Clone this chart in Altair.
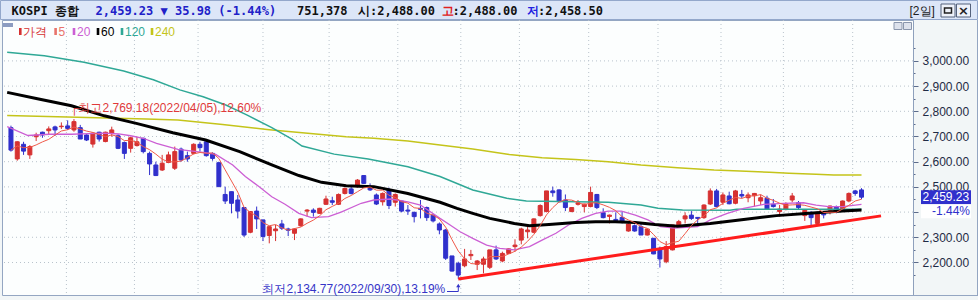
import altair as alt
import pandas as pd

# ---------------- data (2-day candles, KOSPI) ----------------
opens = [2735, 2611, 2669, 2627, 2699, 2717, 2723, 2738, 2739, 2742,
         2726, 2735, 2706, 2670, 2717, 2680, 2713, 2703, 2676, 2653,
         2664, 2693, 2633, 2587, 2567, 2597, 2574, 2650, 2624, 2633,
         2669, 2679, 2633, 2596, 2470, 2481, 2448, 2418, 2320, 2404,
         2369, 2307, 2326, 2353, 2333, 2316, 2346, 2404, 2408, 2395,
         2431, 2445, 2431, 2474, 2492, 2501, 2545, 2501, 2468, 2441,
         2488, 2439, 2444, 2408, 2399, 2415, 2418, 2388, 2353, 2329,
         2226, 2197, 2187, 2227, 2193, 2193, 2181, 2250, 2206, 2236,
         2263, 2289, 2322, 2320, 2386, 2402, 2484, 2488, 2448, 2402,
         2431, 2422, 2422, 2470, 2398, 2383, 2371, 2379, 2325, 2346,
         2342, 2309, 2296, 2256, 2203, 2250, 2346, 2373, 2388, 2379,
         2378, 2432, 2484, 2439, 2464, 2435, 2470, 2457, 2465, 2444,
         2455, 2431, 2402, 2410, 2448, 2437, 2386, 2395, 2355, 2395,
         2408, 2420, 2412, 2444, 2484, 2488]
highs = [2743, 2681, 2679, 2666, 2715, 2719, 2740, 2743, 2756, 2764,
         2769.18, 2746, 2709, 2717, 2719, 2719, 2739, 2709, 2680, 2699,
         2699, 2695, 2640, 2600, 2627, 2640, 2660, 2656, 2640, 2673,
         2679, 2680, 2637, 2600, 2501, 2481, 2468, 2418, 2404, 2422,
         2369, 2346, 2349, 2369, 2338, 2336, 2375, 2412, 2415, 2417,
         2465, 2461, 2474, 2497, 2508, 2531, 2547, 2514, 2474, 2478,
         2497, 2474, 2448, 2428, 2402, 2448, 2422, 2391, 2359, 2333,
         2226, 2203, 2254, 2250, 2210, 2223, 2250, 2267, 2243, 2256,
         2292, 2338, 2346, 2375, 2431, 2484, 2501, 2490, 2470, 2420,
         2448, 2433, 2501, 2472, 2415, 2390, 2399, 2402, 2362, 2351,
         2355, 2335, 2297, 2263, 2285, 2349, 2369, 2399, 2404, 2380,
         2431, 2494, 2492, 2478, 2481, 2488, 2488, 2478, 2476, 2470,
         2465, 2452, 2428, 2439, 2476, 2444, 2412, 2404, 2402, 2404,
         2426, 2426, 2446, 2478, 2488, 2495]
lows = [2640, 2604, 2627, 2611, 2682, 2695, 2706, 2703, 2730, 2726,
        2719, 2690, 2682, 2656, 2680, 2677, 2699, 2650, 2611, 2636,
        2660, 2633, 2547, 2543, 2563, 2594, 2567, 2600, 2600, 2629,
        2640, 2620, 2604, 2501, 2432, 2395, 2375, 2301, 2316, 2333,
        2285, 2276, 2285, 2329, 2305, 2289, 2342, 2382, 2382, 2393,
        2428, 2428, 2428, 2470, 2470, 2497, 2512, 2484, 2428, 2426,
        2412, 2422, 2399, 2389, 2359, 2375, 2365, 2359, 2312, 2210,
        2164, 2134.77, 2181, 2210, 2170, 2157, 2174, 2210, 2201, 2234,
        2243, 2272, 2296, 2316, 2382, 2399, 2461, 2439, 2404, 2400,
        2426, 2399, 2419, 2412, 2375, 2355, 2362, 2355, 2322, 2322,
        2309, 2307, 2233, 2180, 2197, 2248, 2342, 2355, 2369, 2346,
        2373, 2428, 2419, 2428, 2431, 2431, 2455, 2439, 2422, 2428,
        2410, 2418, 2382, 2407, 2439, 2412, 2365, 2346, 2351, 2375,
        2391, 2395, 2410, 2439, 2465, 2451]
closes = [2646, 2679, 2642, 2660, 2706, 2706, 2730, 2726, 2741, 2732,
          2759, 2690, 2686, 2713, 2690, 2717, 2726, 2653, 2633, 2695,
          2679, 2640, 2591, 2545, 2594, 2627, 2640, 2607, 2611, 2669,
          2656, 2624, 2613, 2501, 2444, 2435, 2404, 2309, 2402, 2373,
          2303, 2342, 2333, 2336, 2328, 2333, 2373, 2408, 2399, 2415,
          2452, 2439, 2470, 2494, 2474, 2527, 2514, 2488, 2432, 2474,
          2426, 2470, 2404, 2404, 2382, 2411, 2378, 2365, 2329, 2217,
          2166, 2150, 2214, 2232, 2206, 2214, 2250, 2214, 2236, 2254,
          2269, 2333, 2329, 2373, 2426, 2484, 2477, 2441, 2418, 2418,
          2437, 2432, 2478, 2418, 2378, 2388, 2366, 2359, 2353, 2325,
          2309, 2333, 2234, 2214, 2263, 2349, 2362, 2385, 2375, 2375,
          2428, 2484, 2422, 2468, 2433, 2484, 2464, 2468, 2474, 2457,
          2412, 2422, 2412, 2433, 2464, 2418, 2407, 2378, 2399, 2389,
          2424, 2404, 2444, 2474, 2474, 2459.23]

# moving averages (candle index -> value)
ma20_i = [-0.6, 2.7, 6.1, 9.6, 12.4, 14.8, 17.1, 19.0, 21.0, 23.1, 26.5, 30.5, 32.5,
          35.2, 37.2, 39.4, 41.4, 43.5, 45.7, 47.7, 50.4, 52.4, 55.6, 57.6, 60.3, 63.0,
          65.0, 68.1, 69.7, 71.3, 73.3, 75.5, 77.6, 79.9, 82.3, 84.3, 86.5, 88.5, 90.6,
          92.8, 94.8, 96.9, 99.1, 101.1, 103.1, 105.3, 109.0, 111.0, 113.7, 116.3,
          119.5, 122.6, 125.8, 127.8, 129.8, 132.0, 135.0]
ma20_v = [2739, 2704, 2709, 2709, 2711, 2713, 2710, 2703, 2693, 2673, 2649, 2637, 2629,
          2587, 2541, 2501, 2461, 2431, 2395, 2378, 2382, 2400, 2435, 2448, 2452, 2441,
          2428, 2375, 2349, 2322, 2296, 2269, 2256, 2250, 2263, 2289, 2316, 2349, 2375,
          2395, 2404, 2404, 2388, 2369, 2342, 2336, 2342, 2369, 2395, 2415,
          2431, 2435, 2437, 2428, 2422, 2422, 2431]
ma60_i = [-0.6, 4.2, 9.6, 14.8, 19.9, 25.7, 30.9, 36.3, 41.4, 45.7, 49.3, 53.2, 57.6,
          63.0, 68.1, 70.8, 73.3, 76.0, 79.9, 82.3, 85.4, 89.6, 92.8, 95.9, 99.1, 102.2,
          105.8, 111.0, 116.3, 121.5, 126.7, 132.0, 135.0]
ma60_v = [2875, 2850, 2822, 2782, 2752, 2715, 2686, 2640, 2587, 2545, 2518, 2505, 2501,
          2474, 2439, 2415, 2395, 2375, 2355, 2346, 2351, 2359, 2362, 2362, 2359, 2351,
          2344, 2355, 2371, 2386, 2395, 2404, 2408]
ma120_i = [-0.6, 5.3, 11.6, 17.9, 22.6, 26.8, 30.5, 34.1, 37.5, 41.4, 44.6, 46.2, 51.3,
           56.7, 63.0, 68.1, 73.3, 78.7, 81.8, 89.6, 94.8, 100.0, 102.7, 106.6, 114.1,
           115.2, 135.0]
ma120_v = [3034, 3020, 2995, 2960, 2925, 2885, 2858, 2825, 2785, 2735, 2690, 2662, 2630,
           2611, 2580, 2541, 2488, 2455, 2444, 2441, 2439, 2428, 2415, 2408, 2407,
           2411, 2411]
ma240_i = [-0.6, 10.5, 21.5, 26.5, 33.6, 41.0, 53.2, 57.6, 63.0, 68.1, 73.3, 79.1, 84.3,
           89.6, 94.8, 100.0, 105.8, 111.6, 115.7, 120.4, 123.5, 127.8, 130.6, 135.0]
ma240_v = [2783, 2776, 2769, 2765, 2748, 2727, 2699, 2693, 2682, 2666, 2650, 2629, 2616,
           2609, 2600, 2587, 2576, 2567, 2563, 2558, 2554, 2550, 2547, 2547]

trend_i = [71, 138.1]
trend_v = [2134.77, 2385]

month_breaks = [8.8, 19.6, 29.7, 40.0, 50.5, 61.4, 71.4, 80.7, 91.7, 102.7, 112.7, 122.6, 133.6]
price_levels = [2200, 2300, 2400, 2500, 2600, 2700, 2800, 2900, 3000]
axis_ticks = [2150 + 50 * k for k in range(19)]

high_idx, high_val, high_txt = 10, 2769.18, "┌최고2,769.18(2022/04/05),12.60%"
low_idx, low_val, low_txt = 71, 2134.77, "최저2,134.77(2022/09/30),13.19%"

last_close = closes[-1]
chg, chg_pct = 35.98, -1.44
volume = "751,378"
day_open, day_high, day_low = 2488.00, 2488.00, 2458.50

legend_items = ["가격", "5", "20", "60", "120", "240"]

# ---------------- styles ----------------
RED = "#d63131"
BLUE = "#3030cc"
C5 = "#f05a4a"
C20 = "#cc5fd4"
C60 = "#000000"
C120 = "#2fa896"
C240 = "#c4c41a"
legend_colors = [RED, "#e8736b", C20, C60, C120, C240]
legend_x = [19, 54.3, 72.7, 96.7, 120.7, 150.7]

LEFT, TOP, W, H = 2, 20, 911, 275
xs = alt.Scale(domain=[-0.628, 142.38], nice=False, zero=False)
ys = alt.Scale(domain=[2071.0, 3162.3], nice=False, zero=False)

# the 2,400.00 label sits under the change tag (hidden in the reference)
yax = alt.Axis(
    orient="right", values=axis_ticks, title=None, grid=False,
    labelExpr="(datum.value % 100 === 0 && datum.value >= 2200 && datum.value <= 3000 && datum.value !== 2400) ? format(datum.value, ',.2f') : ''",
    labelOverlap=False, labelFlush=False, labelBound=False,
    labelFont="Liberation Sans", labelFontSize=12, labelColor="#1f2b45",
    labelPadding=4, domainColor="#8ea0bc", tickColor="#5c6c8c",
    tickSize={"condition": {"test": "datum.value % 100 === 0", "value": 5}, "value": 2},
)


def X(f):
    return alt.X(f, type="quantitative", scale=xs, axis=None)


def Y(f):
    return alt.Y(f, type="quantitative", scale=ys, axis=yax)


candles = pd.DataFrame({"i": list(range(len(closes))), "open": opens, "high": highs,
                        "low": lows, "close": closes})

one = pd.DataFrame({"k": [0]})


def rx(a):
    return a - LEFT


def ry(a):
    return a - TOP


def box(x1, y1, x2, y2, fill, stroke=None, sw=1):
    kw = dict(fill=fill)
    if stroke:
        kw.update(stroke=stroke, strokeWidth=sw)
    return alt.Chart(one).mark_rect(**kw).encode(
        x=alt.value(rx(x1)), x2=alt.value(rx(x2)), y=alt.value(ry(y1)), y2=alt.value(ry(y2)))


def label(x, y, s, color, size=12, font="Liberation Sans", weight="normal", align="left"):
    return alt.Chart(one).mark_text(text=s, align=align, baseline="middle", color=color,
                                    fontSize=size, font=font, fontWeight=weight).encode(
        x=alt.value(rx(x)), y=alt.value(ry(y)))


def seg(x1, y1, x2, y2, color, sw=1):
    return alt.Chart(one).mark_rule(color=color, strokeWidth=sw).encode(
        x=alt.value(rx(x1)), x2=alt.value(rx(x2)), y=alt.value(ry(y1)), y2=alt.value(ry(y2)))


layers = []

# grid
layers.append(alt.Chart(pd.DataFrame({"g": month_breaks})).mark_rule(
    color="#b9c3cc", strokeDash=[1, 3], strokeWidth=1).encode(x=X("g")))
layers.append(alt.Chart(pd.DataFrame({"p": price_levels})).mark_rule(
    color="#b9c3cc", strokeDash=[1, 3], strokeWidth=1).encode(y=Y("p")))

# candles
base = alt.Chart(candles).transform_calculate(d="datum.close >= datum.open ? 'up' : 'down'")
cscale = alt.Scale(domain=["up", "down"], range=[RED, BLUE])
layers.append(base.mark_rule(strokeWidth=1).encode(
    x=X("i"), y=Y("low"), y2="high", color=alt.Color("d:N", scale=cscale, legend=None)))
layers.append(base.mark_bar(size=4, strokeWidth=1).encode(
    x=X("i"), y=Y("open"), y2="close",
    color=alt.Color("d:N", scale=cscale, legend=None),
    stroke=alt.Stroke("d:N", scale=cscale, legend=None)))

# moving averages
for mi, mv, col, sw in [(ma240_i, ma240_v, C240, 1.5), (ma120_i, ma120_v, C120, 1.5),
                        (ma20_i, ma20_v, C20, 1.3), (ma60_i, ma60_v, C60, 3)]:
    layers.append(alt.Chart(pd.DataFrame({"i": mi, "v": mv})).mark_line(
        color=col, strokeWidth=sw).encode(x=X("i"), y=Y("v")))

layers.append(base.transform_window(ma5="mean(close)", frame=[-4, 0],
                                    sort=[alt.SortField("i")]).mark_line(
    color=C5, strokeWidth=1).encode(x=X("i"), y=Y("ma5")))

# trend line
layers.append(alt.Chart(pd.DataFrame({"i": trend_i, "v": trend_v})).mark_line(
    color="#ff1c1c", strokeWidth=3).encode(x=X("i"), y=Y("v")))

# high / low annotations
layers.append(alt.Chart(pd.DataFrame({"i": [high_idx], "v": [high_val], "t": [high_txt]})).mark_text(
    align="left", baseline="middle", dx=-4, dy=-11, color="#e03a3a",
    font="Liberation Sans", fontSize=12).encode(x=X("i"), y=Y("v"), text="t:N"))
layers.append(alt.Chart(pd.DataFrame({"i": [low_idx], "v": [low_val], "t": [low_txt]})).mark_text(
    align="right", baseline="middle", dx=-13, dy=10, color="#3535c8",
    font="Liberation Sans", fontSize=12).encode(x=X("i"), y=Y("v"), text="t:N"))
layers.append(seg(447, 291.5, 458.3, 291.5, "#3535c8"))
layers.append(seg(458.3, 291.5, 458.3, 286, "#3535c8"))
layers.append(alt.Chart(one).mark_point(shape="triangle-up", filled=True, size=18,
                                        color="#3535c8", opacity=1).encode(
    x=alt.value(rx(458.3)), y=alt.value(ry(285.5))))

# current price tags on the axis
lastdf = pd.DataFrame({"v": [last_close], "t": [f"{last_close:,.2f}"], "p": [f"{chg_pct:.2f}%"]})
layers.append(alt.Chart(lastdf).mark_tick(orient="horizontal", size=50, thickness=14,
                                          color=BLUE, opacity=1).encode(
    x=alt.value(rx(946)), y=Y("v")))
layers.append(alt.Chart(lastdf).mark_tick(orient="horizontal", size=50, thickness=14,
                                          color="#ffffff", opacity=1, yOffset=14).encode(
    x=alt.value(rx(946)), y=Y("v")))
layers.append(alt.Chart(lastdf).mark_text(align="left", baseline="middle", color="#ffffff",
                                          font="Liberation Sans", fontSize=12).encode(
    x=alt.value(rx(922.5)), y=Y("v"), text="t:N"))
layers.append(alt.Chart(lastdf).mark_text(align="right", baseline="middle", color=BLUE,
                                          font="Liberation Sans", fontSize=12, dy=14).encode(
    x=alt.value(rx(970)), y=Y("v"), text="p:N"))

# frame pieces
layers.append(seg(913, 295.5, 977.5, 295.5, "#94a6c2"))
layers.append(seg(977.5, 20, 977.5, 296, "#94a6c2"))

# header bar
layers.append(box(0.5, 0.5, 977.5, 19.5, "#dce6f8", "#93a7cb"))
HF = "DejaVu Sans Mono"
layers.append(label(11.5, 11, "KOSPI 종합", "#111111", 12, HF, "bold"))
layers.append(label(95.5, 11, f"{last_close:,.2f} ▼ {chg:.2f} ({chg_pct:.2f}%)", "#2020c8", 12, HF, "bold"))
layers.append(label(297, 11, volume, "#111111", 12, HF, "bold"))
layers.append(label(358, 11, f"시:{day_open:,.2f}", "#111111", 12, HF, "bold"))
layers.append(label(441.5, 11, "고", "#e02020", 12, HF, "bold"))
layers.append(label(452.5, 11, f":{day_high:,.2f}", "#111111", 12, HF, "bold"))
layers.append(label(527, 11, "저", "#2020e0", 12, HF, "bold"))
layers.append(label(538, 11, f":{day_low:,.2f}", "#111111", 12, HF, "bold"))
layers.append(label(909.5, 11, "[2일]", "#222222", 12, "Liberation Sans"))
layers.append(box(941, 4, 955, 17, "#eef2fa", "#55627c"))
layers.append(box(944.5, 8, 951.5, 13, "#eef2fa", "#222222", 1.5))
layers.append(box(956.5, 4, 970.5, 17, "#eef2fa", "#55627c"))
layers.append(label(963.5, 10.8, "×", "#222222", 13, "DejaVu Sans", "bold", "center"))

# legend row
layers.append(box(3, 23, 13, 27, "#8c9cc0"))
for name, col, lx in zip(legend_items, legend_colors, legend_x):
    layers.append(box(lx, 28, lx + 2.6, 35, col))
    layers.append(label(lx + 4.3, 31.5, name, col, 12, "Liberation Sans"))

# small panel buttons (top right of plot)
layers.append(box(894, 22.5, 902, 29.5, "#dde2ec", "#8a96ac"))
layers.append(box(903.5, 22.5, 911.5, 29.5, "#dde2ec", "#8a96ac"))

chart = alt.layer(*layers).properties(
    width=W, height=H,
    padding={"left": LEFT, "top": TOP, "right": 978 - LEFT - W, "bottom": 300 - TOP - H},
    autosize=alt.AutoSizeParams(type="none"),
    background="#f2f6f7",
).configure_view(fill="#fcfefe", stroke="#94a6c2", strokeWidth=1)

chart.save("out.html", embed_options={"renderer": "svg", "actions": False})
